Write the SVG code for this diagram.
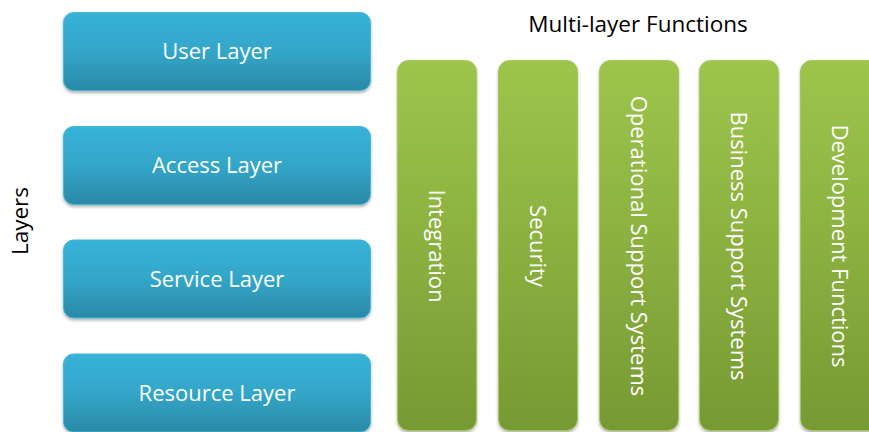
<svg xmlns="http://www.w3.org/2000/svg" width="869" height="432" viewBox="0 0 869 432">
  <defs>
    <linearGradient id="gBlue" x1="0" y1="0" x2="0" y2="1">
      <stop offset="0" stop-color="#37b2d7"/>
      <stop offset="0.5" stop-color="#33a6c9"/>
      <stop offset="1" stop-color="#2a89a6"/>
    </linearGradient>
    <linearGradient id="gGreen" x1="0" y1="0" x2="0" y2="1">
      <stop offset="0" stop-color="#9dc54b"/>
      <stop offset="0.5" stop-color="#8bb040"/>
      <stop offset="1" stop-color="#779933"/>
    </linearGradient>
    <filter id="shadow" x="-10%" y="-10%" width="120%" height="130%">
      <feDropShadow dx="0" dy="2" stdDeviation="1.5" flood-color="#000" flood-opacity="0.3"/>
    </filter>
  </defs>
  <style>
    .layer { fill: url(#gBlue); stroke: #45b8da; stroke-width: 1; filter: url(#shadow); }
    .func { fill: url(#gGreen); stroke: #a3c95a; stroke-width: 1; filter: url(#shadow); }
    .lbl { font-family: "Open Sans", "Liberation Sans", sans-serif; font-size: 22px; fill: #ffffff; text-anchor: middle; }
    .title { font-family: "Open Sans", "Liberation Sans", sans-serif; font-size: 22.5px; fill: #000000; text-anchor: middle; }
  </style>
  <rect width="869" height="432" fill="#ffffff"/>

  <text class="title" x="638" y="32">Multi-layer Functions</text>
  <text class="title" transform="translate(28,221) rotate(-90)" x="0" y="0">Layers</text>

  <g id="user-layer">
    <rect class="layer" x="63.5" y="12.5" width="307" height="78" rx="10"/>
    <text class="lbl" x="217" y="59">User Layer</text>
  </g>
  <g id="access-layer">
    <rect class="layer" x="63.5" y="126.5" width="307" height="78" rx="10"/>
    <text class="lbl" x="217" y="173">Access Layer</text>
  </g>
  <g id="service-layer">
    <rect class="layer" x="63.5" y="240" width="307" height="78" rx="10"/>
    <text class="lbl" x="217" y="287">Service Layer</text>
  </g>
  <g id="resource-layer">
    <rect class="layer" x="63.5" y="354" width="307" height="78" rx="10"/>
    <text class="lbl" x="217" y="401">Resource Layer</text>
  </g>

  <g id="integration">
    <rect class="func" x="397.5" y="60.5" width="79" height="370" rx="11"/>
    <text class="lbl" transform="translate(436,246) rotate(90)" x="0" y="7">Integration</text>
  </g>
  <g id="security">
    <rect class="func" x="498.5" y="60.5" width="79" height="370" rx="11"/>
    <text class="lbl" transform="translate(537,246) rotate(90)" x="0" y="7">Security</text>
  </g>
  <g id="oss">
    <rect class="func" x="599.5" y="60.5" width="79" height="370" rx="11"/>
    <text class="lbl" transform="translate(638,246) rotate(90)" x="0" y="7">Operational Support Systems</text>
  </g>
  <g id="bss">
    <rect class="func" x="699.5" y="60.5" width="79" height="370" rx="11"/>
    <text class="lbl" transform="translate(738,246) rotate(90)" x="0" y="7">Business Support Systems</text>
  </g>
  <g id="dev">
    <rect class="func" x="800.5" y="60.5" width="79" height="370" rx="11"/>
    <text class="lbl" transform="translate(839,246) rotate(90)" x="0" y="7">Development Functions</text>
  </g>

  <g id="connectors"></g>
</svg>
